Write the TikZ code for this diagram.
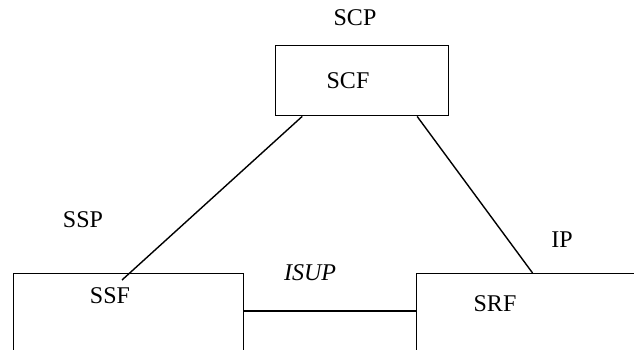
\documentclass[tikz,border=0pt]{standalone}
\usepackage{fontspec}
\setmainfont{Liberation Serif}
\usetikzlibrary{calc}
\begin{document}
\begin{tikzpicture}[x=1pt,y=-1pt,
  box/.style={draw,line width=1.4pt,rectangle,inner sep=0pt,anchor=north west},
  lbl/.style={inner sep=0pt,font=\fontsize{24}{26}\selectfont},
  link/.style={line width=1.4pt}]
\useasboundingbox (0,0) rectangle (634,349);
\clip (0,0) rectangle (634,349);
% boxes
\node[box,minimum width=173pt,minimum height=70pt] (scf) at (275,45) {};
\node[box,minimum width=230pt,minimum height=120pt] (ssf) at (12.7,273) {};
\node[box,minimum width=290pt,minimum height=120pt] (srf) at (416,273) {};
% labels
\node[lbl] (scp) at (355,18) {SCP};
\node[lbl] (scft) at (348,81) {SCF};
\node[lbl] (ssp) at (83,220) {SSP};
\node[lbl] (ssft) at (110,296) {SSF};
\node[lbl] (srft) at (495,304) {SRF};
\node[lbl] (ip) at (562,240) {IP};
\node[lbl,font=\fontsize{24}{26}\selectfont\itshape] (isup) at (310,273) {ISUP};
% connector end points
\coordinate (c1) at ($(scf.south west)!0.156!(scf.south east)$);
\coordinate (c2) at ($(scf.south west)!0.815!(scf.south east)$);
\coordinate (e1) at (122,280);
\coordinate (e2) at ($(srf.north west)!0.400!(srf.north east)$);
\draw[link] (c1) -- (e1);
\draw[link] (c2) -- (e2);
\draw[link] (ssf.east |- 0,311) -- (srf.west |- 0,311);
\end{tikzpicture}
\end{document}
